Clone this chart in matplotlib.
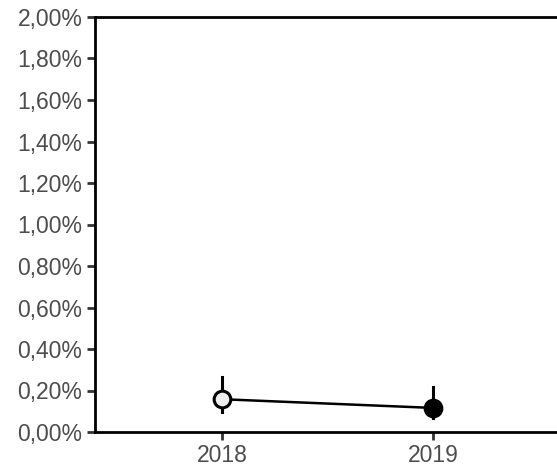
import matplotlib.pyplot as plt
from matplotlib.ticker import FuncFormatter

years = ['2018', '2019']
rate = [0.00158, 0.00116]
lower = [0.00096, 0.00067]
upper = [0.00266, 0.00218]
fills = ['#eeeeee', 'black']

plt.rcParams['font.family'] = ['Liberation Sans', 'DejaVu Sans']

fig = plt.figure(figsize=(5.57, 4.70), dpi=100)
ax = fig.add_axes([95 / 557, 38 / 470, 462 / 557, 415 / 470])

x = [1, 2]
ax.plot(x, rate, color='black', linewidth=1.8, zorder=2)
for xi, r, lo, hi, fc in zip(x, rate, lower, upper, fills):
    ax.plot([xi, xi], [lo, hi], color='black', linewidth=2.2, zorder=2)
    ax.plot(xi, r, 'o', markersize=12, markerfacecolor=fc,
            markeredgecolor='black', markeredgewidth=2.2, zorder=3)

ax.set_xlim(0.4, 2 + 124 / 212)
ax.set_ylim(0, 0.02)
ax.set_xticks(x)
ax.set_xticklabels(years)
ax.set_yticks([i * 0.002 for i in range(11)])
ax.yaxis.set_major_formatter(FuncFormatter(lambda v, p: f'{v * 100:.2f}%'.replace('.', ',')))

ax.spines['right'].set_visible(False)
for s in ['left', 'bottom', 'top']:
    ax.spines[s].set_linewidth(2)
    ax.spines[s].set_color('black')

ax.tick_params(axis='both', length=5.5, width=2, color='#333333',
               labelcolor='#4d4d4d', labelsize=16.5, pad=3.5)

fig.savefig('out.png', dpi=100)
